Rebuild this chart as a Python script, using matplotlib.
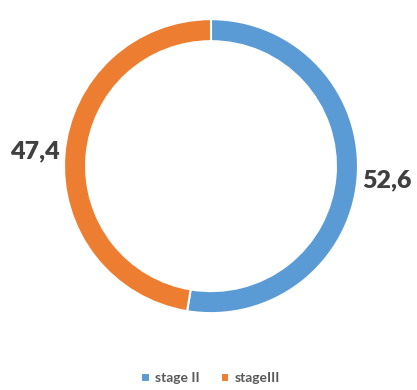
import matplotlib.pyplot as plt

stages = ["stage II", "stageIII"]
values = [52.6, 47.4]
labels = ["52,6", "47,4"]
colors = ["#5B9BD5", "#ED7D31"]

fig = plt.figure(figsize=(4.17, 3.9), dpi=100)
ax = fig.add_axes([0.1535, 0.197, 0.705, 0.754])

wedges, texts = ax.pie(values, colors=colors, startangle=90, counterclock=False,
                       labels=labels, labeldistance=1.2,
                       wedgeprops=dict(width=0.15, edgecolor="white", linewidth=1.5),
                       textprops=dict(fontsize=18, fontweight="heavy", color="#404040",
                                      family="Lato"))
for t in texts:
    t.set_ha("center")
    t.set_va("center")
ax.set_xlim(-1, 1)
ax.set_ylim(-1, 1)
ax.set_aspect("equal")

fig.legend(wedges, stages, loc="center", bbox_to_anchor=(0.505, 0.03), ncol=2,
           frameon=False, handlelength=0.6, handleheight=0.6, handletextpad=0.4,
           columnspacing=1.5, prop=dict(family="Lato", size=10, weight="bold"),
           labelcolor="#595959")

fig.savefig("out.png", dpi=100)
